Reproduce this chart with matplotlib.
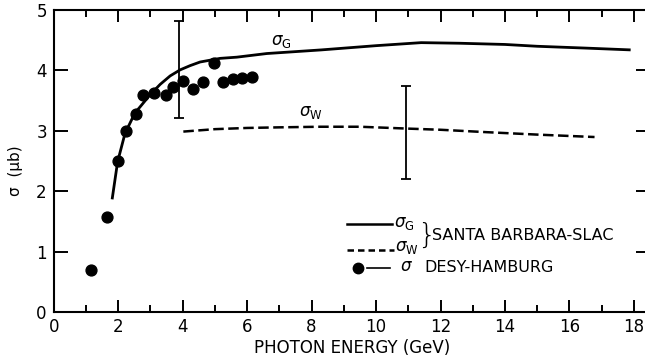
import matplotlib
matplotlib.use("Agg")
import matplotlib.pyplot as plt
from matplotlib.ticker import MultipleLocator

plt.rcParams["font.family"] = "DejaVu Sans"
plt.rcParams["mathtext.fontset"] = "dejavusans"

# DESY-Hamburg total cross section points
desy_e = [1.16, 1.66, 2.00, 2.24, 2.54, 2.78, 3.12, 3.48, 3.70, 4.02,
          4.31, 4.64, 4.97, 5.25, 5.56, 5.85, 6.16]
desy_sigma = [0.71, 1.58, 2.50, 3.00, 3.28, 3.59, 3.62, 3.60, 3.72, 3.83,
              3.69, 3.81, 4.12, 3.81, 3.86, 3.88, 3.89]

# Santa Barbara-SLAC sigma_G (solid)
sg_e = [1.81, 1.98, 2.21, 2.52, 2.68, 2.99, 3.30, 3.61, 3.92, 4.23,
        4.54, 4.85, 5.16, 5.68, 6.61, 8.30, 10.0, 11.4, 12.6, 14.0,
        15.0, 16.5, 17.9]
sg_sigma = [1.87, 2.49, 2.96, 3.30, 3.40, 3.60, 3.77, 3.91, 4.01, 4.08,
            4.14, 4.17, 4.20, 4.22, 4.28, 4.34, 4.41, 4.46, 4.45, 4.43,
            4.40, 4.37, 4.34]

# Santa Barbara-SLAC sigma_W (dashed)
sw_e = [4.02, 5.0, 6.0, 7.0, 8.27, 9.5, 10.94, 12.0, 13.44, 15.0, 16.78]
sw_sigma = [2.99, 3.03, 3.05, 3.06, 3.07, 3.07, 3.04, 3.02, 2.98, 2.94, 2.90]

# typical uncertainty bars
bar_e = [3.90, 10.94]
bar_lo = [3.21, 2.21]
bar_hi = [4.81, 3.74]

x_ticks = [0, 2, 4, 6, 8, 10, 12, 14, 16, 18]
y_ticks = [0, 1, 2, 3, 4, 5]


def main():
    fig = plt.figure(figsize=(6.45, 3.6), dpi=100)
    # right spine sits just past the edge of the sheet
    ax = fig.add_axes([0.0834, 0.132, 0.9243, 0.8403])
    ax.set_xlim(0, 18.5)
    ax.set_ylim(0, 5)

    ax.plot(sg_e, sg_sigma, color="black", lw=2.0, solid_capstyle="butt",
            solid_joinstyle="round")
    ax.plot(sw_e, sw_sigma, color="black", lw=1.8, linestyle=(0, (4.2, 1.8)))
    ax.plot(desy_e, desy_sigma, "o", color="black", ms=7.8, mec="black")

    mid = [(lo + hi) / 2 for lo, hi in zip(bar_lo, bar_hi)]
    half = [(hi - lo) / 2 for lo, hi in zip(bar_lo, bar_hi)]
    ax.errorbar(bar_e, mid, yerr=half, fmt="none", ecolor="black",
                elinewidth=1.3, capsize=3.4, capthick=1.3)

    ax.text(6.73, 4.42, r"$\sigma_{\mathrm{G}}$", fontsize=12, va="baseline")
    ax.text(7.62, 3.24, r"$\sigma_{\mathrm{W}}$", fontsize=12, va="baseline")

    # hand-made key
    tr = ax.transAxes
    ax.plot([0.4915, 0.5668], [0.294, 0.294], color="black", lw=1.8, transform=tr)
    ax.plot([0.4915, 0.5705], [0.207, 0.207], color="black", lw=1.8,
            linestyle=(0, (2.6, 1.6)), transform=tr)
    ax.plot([0.511], [0.146], "o", color="black", ms=7.5, transform=tr)
    ax.plot([0.525, 0.564], [0.146, 0.146], color="black", lw=1.2, transform=tr)
    ax.text(0.571, 0.284, r"$\sigma_{\mathrm{G}}$", fontsize=12, va="baseline", transform=tr)
    ax.text(0.5725, 0.203, r"$\sigma_{\mathrm{W}}$", fontsize=12, va="baseline", transform=tr)
    ax.text(0.580, 0.1355, r"$\sigma$", fontsize=12, va="baseline", transform=tr)
    ax.text(0.6245, 0.252, "}", fontsize=21, va="center", ha="center",
            fontweight="light", transform=tr)
    ax.text(0.6346, 0.256, "SANTA BARBARA-SLAC", fontsize=11.5, va="center", transform=tr)
    ax.text(0.621, 0.149, "DESY-HAMBURG", fontsize=11.5, va="center", transform=tr)

    ax.set_xticks(x_ticks)
    ax.set_yticks(y_ticks)
    ax.xaxis.set_minor_locator(MultipleLocator(1))
    ax.tick_params(which="both", direction="in", top=True, right=True,
                   width=1.4, labelsize=12)
    ax.tick_params(axis="x", which="major", length=8.5, pad=4)
    ax.tick_params(axis="x", which="minor", length=5)
    ax.tick_params(axis="y", which="major", length=10, pad=5)
    for sp in ax.spines.values():
        sp.set_linewidth(1.5)

    ax.set_xlabel("PHOTON ENERGY (GeV)", fontsize=12, labelpad=2)
    ax.set_ylabel("σ  (μb)", fontsize=11)
    ax.yaxis.set_label_coords(-0.052, 0.47)

    fig.savefig("out.png", dpi=100)
    plt.close(fig)


if __name__ == "__main__":
    main()
